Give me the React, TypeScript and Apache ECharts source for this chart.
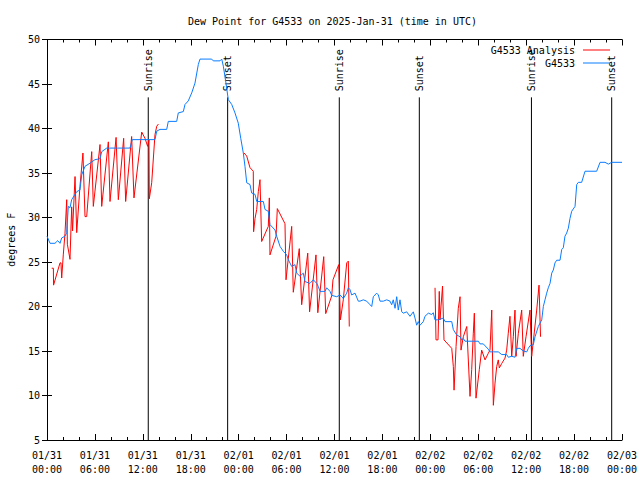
import React, { useEffect, useRef } from "react";
import * as echarts from "echarts";

// Hours since 2025-01-31 00:00 UTC
const xTickHours = [0, 6, 12, 18, 24, 30, 36, 42, 48, 54, 60, 66, 72];
const yTicks = [5, 10, 15, 20, 25, 30, 35, 40, 45, 50];

const sunEventHours = [12.68, 22.62, 36.6, 46.62, 60.66, 70.71];
const sunEventNames = ["Sunrise", "Sunset", "Sunrise", "Sunset", "Sunrise", "Sunset"];

const observed: [number, number][] = [
  [0, 27.9], [0.38, 27.1], [1.0, 27.1], [1.34, 27.4], [1.63, 27.1], [1.84, 27.7], [2.25, 27.9], [2.47, 28.3],
  [2.67, 31.25], [2.88, 31.1], [3.09, 32.0], [3.72, 32.9], [4.13, 33.1], [4.35, 34.8], [4.76, 35.75], [5.38, 36.1],
  [6.01, 36.5], [6.64, 36.6], [6.85, 37.4], [7.48, 37.8], [10.39, 37.8], [10.68, 38.75], [13.52, 38.75], [13.74, 39.7],
  [14.15, 39.9], [14.99, 39.9], [15.19, 40.8], [16.24, 40.8], [16.44, 41.75], [17.07, 41.9], [17.28, 42.7], [17.69, 43.1],
  [18.12, 44.0], [18.53, 45.1], [18.95, 47.2], [19.16, 47.8], [20.62, 47.8], [20.82, 47.6], [21.66, 47.6], [21.88, 47.8],
  [22.08, 47.0], [22.41, 45.1], [22.7, 43.25], [23.13, 42.7], [23.54, 41.75], [23.95, 40.6], [24.26, 38.9], [24.58, 37.25],
  [24.79, 35.75], [25.01, 33.9], [25.42, 33.7], [25.63, 32.75], [26.05, 32.6], [26.26, 31.8], [27.09, 31.8], [27.3, 30.9],
  [27.71, 30.7], [27.92, 29.2], [28.55, 28.6], [28.76, 27.9], [29.18, 26.75], [29.59, 26.2], [30.02, 25.8], [30.22, 25.25],
  [30.64, 24.5], [31.05, 24.7], [31.27, 23.75], [31.68, 23.4], [32.09, 23.75], [32.31, 22.8], [32.93, 22.6], [33.35, 23.0],
  [33.77, 22.6], [33.97, 22.25], [34.19, 21.7], [34.81, 21.7], [35.02, 22.1], [35.44, 21.7], [35.65, 21.25], [36.28, 21.1],
  [36.69, 21.3], [37.1, 20.9], [37.53, 21.5], [37.73, 22.1], [37.94, 21.9], [38.15, 21.3], [38.57, 21.5], [38.98, 20.6],
  [39.19, 20.6], [39.61, 20.75], [40.03, 20.6], [40.45, 20.2], [40.66, 20.0], [40.86, 21.1], [41.28, 21.5], [41.49, 21.3],
  [41.7, 20.6], [42.11, 20.6], [42.54, 20.75], [42.95, 20.6], [43.16, 20.2], [43.36, 20.75], [43.58, 19.8], [43.79, 21.1],
  [43.99, 19.6], [44.2, 20.75], [44.42, 19.4], [44.62, 19.25], [45.04, 19.4], [45.45, 18.9], [45.87, 19.4], [46.08, 18.7],
  [46.29, 17.9], [46.49, 18.3], [46.71, 17.9], [47.12, 18.3], [47.33, 18.9], [47.75, 19.25], [48.17, 19.1], [48.37, 19.3],
  [48.58, 18.5], [49.0, 18.5], [49.62, 18.7], [49.84, 18.3], [50.68, 18.3], [50.88, 17.4], [51.3, 16.8], [51.72, 16.6],
  [51.93, 16.25], [52.13, 16.4], [52.34, 16.1], [54.01, 16.1], [54.22, 15.8], [54.63, 15.8], [55.26, 15.2], [55.47, 14.9],
  [56.51, 14.9], [56.94, 14.6], [57.56, 14.6], [57.76, 14.3], [58.19, 14.4], [58.6, 14.3], [58.82, 15.3], [59.23, 15.3],
  [59.64, 15.0], [60.07, 14.9], [60.27, 15.3], [60.48, 15.6], [60.89, 15.7], [61.11, 16.6], [61.52, 17.75], [61.95, 18.5],
  [62.15, 20.0], [62.36, 20.75], [62.57, 21.5], [62.77, 22.1], [62.99, 22.6], [63.2, 23.75], [63.4, 24.1], [63.61, 24.9],
  [63.82, 25.2], [64.24, 25.2], [64.45, 26.4], [64.65, 26.6], [64.86, 27.9], [65.07, 28.25], [65.28, 28.8], [65.49, 29.9],
  [65.7, 30.7], [66.12, 31.25], [66.33, 33.7], [66.53, 33.95], [66.95, 33.95], [67.37, 35.2], [68.83, 35.2], [69.25, 36.2],
  [69.87, 36.2], [70.29, 36.0], [70.71, 36.2], [72, 36.2],
];

const analysisPart1: [number, number][] = [
  [0.59, 24.3], [0.8, 24.3], [0.82, 22.4], [1.63, 24.9], [1.75, 24.9], [1.84, 23.2], [2.04, 25.8], [2.25, 28.2],
  [2.47, 32.0], [2.55, 27.0], [2.88, 25.3], [3.09, 31.2], [3.2, 28.5], [3.51, 34.6], [3.72, 28.3], [4.13, 33.5],
  [4.5, 37.25], [4.76, 30.1], [4.97, 30.1], [5.6, 37.4], [5.8, 31.25], [6.64, 38.2], [6.85, 31.25], [7.68, 38.5],
  [7.89, 31.8], [8.65, 39.0], [8.93, 32.0], [9.6, 38.9], [9.85, 31.8], [10.6, 39.1], [10.89, 32.2], [11.86, 39.6],
  [12.27, 38.9], [12.6, 38.0], [12.77, 38.7], [12.81, 32.1], [13.11, 33.9], [13.52, 39.3], [13.74, 40.25], [13.95, 40.5],
];
const analysisPart2: [number, number][] = [
  [24.67, 37.25], [25.01, 36.9], [25.42, 35.6], [25.83, 35.2], [25.87, 28.4], [26.05, 29.9], [26.26, 30.9], [26.46, 32.9],
  [26.67, 34.25], [26.88, 27.3], [27.71, 29.0], [27.84, 32.2], [27.92, 25.8], [28.68, 27.9], [28.84, 31.0], [29.8, 29.3],
  [29.93, 23.0], [30.64, 29.0], [30.84, 21.6], [31.59, 26.5], [31.89, 20.2], [32.65, 26.0], [32.88, 19.4], [33.68, 25.8],
  [33.91, 19.3], [34.65, 25.6], [34.9, 19.2], [35.65, 21.2], [35.81, 23.0], [36.53, 24.7], [36.74, 18.5], [37.1, 20.75],
  [37.53, 24.9], [37.73, 25.1], [37.85, 17.75],
];
const analysisPart3: [number, number][] = [
  [48.59, 22.1], [48.71, 16.25], [48.96, 16.25], [49.12, 21.7], [49.21, 18.5], [49.53, 22.3], [49.71, 16.25], [50.68, 15.3],
  [50.88, 13.25], [50.97, 10.6], [51.22, 15.5], [51.5, 19.8], [51.72, 21.1], [51.84, 15.1], [52.13, 16.6], [52.56, 17.75],
  [52.97, 9.9], [53.18, 12.9], [53.38, 17.0], [53.51, 19.25], [53.72, 9.7], [54.13, 12.9], [54.43, 15.1], [54.85, 14.0],
  [55.26, 14.75], [55.47, 15.1], [55.69, 19.6], [55.89, 8.9], [56.1, 11.4], [56.31, 13.25], [56.51, 14.0], [56.64, 13.1],
  [56.94, 13.6], [57.35, 14.2], [57.56, 15.1], [57.76, 17.0], [57.97, 18.9], [58.19, 14.4], [58.39, 16.6], [58.6, 19.6],
  [58.73, 14.4], [59.02, 17.0], [59.44, 19.6], [59.64, 14.4], [59.98, 16.6], [60.48, 19.6], [60.69, 14.4], [61.32, 19.6],
  [61.61, 22.4], [61.8, 16.6],
];

const FONT = "'DejaVu Sans Mono', 'Liberation Mono', monospace";

function hourLabel(h: number): string {
  const day = Math.floor(h / 24);
  const hr = Math.round(h - day * 24);
  const dates = ["01/31", "02/01", "02/02", "02/03"];
  return dates[day] + "\n" + String(hr).padStart(2, "0") + ":00";
}

export default function App() {
  const ref = useRef<HTMLDivElement>(null);
  useEffect(() => {
    document.body.style.margin = "0";
    if (!ref.current) return;
    const chart = echarts.init(ref.current, null, { renderer: "svg" });
    const analysis: any[] = [
      ...analysisPart1,
      [18, null],
      ...analysisPart2,
      [43, null],
      ...analysisPart3,
    ];
    const axisLine = { show: true, lineStyle: { color: "#000", width: 1 } };
    const baseX = {
      type: "value",
      min: xTickHours[0],
      max: xTickHours[xTickHours.length - 1],
      interval: 6,
      axisLine,
      splitLine: { show: false },
      axisTick: { show: true, inside: true, length: 6, lineStyle: { color: "#000" } },
      minorTick: { show: true, splitNumber: 3, length: 3, lineStyle: { color: "#000" } },
    };
    const baseY = {
      type: "value",
      min: yTicks[0],
      max: yTicks[yTicks.length - 1],
      interval: 5,
      axisLine,
      splitLine: { show: false },
      axisTick: { show: true, inside: true, length: 5, lineStyle: { color: "#000" } },
    };
    const legendText = { fontFamily: FONT, fontSize: 10, color: "#000", padding: [0, 3, 0, 0] };
    chart.setOption({
      animation: false,
      backgroundColor: "#fff",
      textStyle: { fontFamily: FONT },
      title: {
        text: "Dew Point for G4533 on 2025-Jan-31 (time in UTC)",
        left: 183,
        top: 11,
        textStyle: { fontFamily: FONT, fontSize: 10, fontWeight: "normal", color: "#000" },
      },
      grid: {
        left: 47,
        right: 18,
        top: 39.5,
        bottom: 40,
        containLabel: false,
        outerBoundsMode: "none",
      },
      legend: [
        {
          data: ["G4533 Analysis"],
          right: 25,
          top: 40,
          align: "right",
          icon: "rect",
          itemWidth: 27,
          itemHeight: 1,
          textStyle: legendText,
        },
        {
          data: ["G4533"],
          right: 25,
          top: 53,
          align: "right",
          icon: "rect",
          itemWidth: 27,
          itemHeight: 1,
          textStyle: legendText,
        },
      ],
      xAxis: [
        {
          ...baseX,
          position: "bottom",
          axisLabel: {
            fontFamily: FONT,
            fontSize: 10,
            color: "#000",
            lineHeight: 14,
            margin: 8,
            formatter: (v: number) => hourLabel(v),
          },
        },
        { ...baseX, position: "top", axisLabel: { show: false } },
      ],
      yAxis: [
        {
          ...baseY,
          position: "left",
          name: "degrees F",
          nameLocation: "middle",
          nameRotate: 90,
          nameGap: 31,
          nameTextStyle: { fontFamily: FONT, fontSize: 10, color: "#000" },
          axisLabel: { fontFamily: FONT, fontSize: 10, color: "#000", margin: 7 },
        },
        { ...baseY, position: "right", axisLabel: { show: false } },
      ],
      series: [
        {
          name: "G4533 Analysis",
          type: "line",
          data: analysis,
          showSymbol: false,
          connectNulls: false,
          color: "#ff0000",
          lineStyle: { color: "#ff0000", width: 1 },
        },
        {
          name: "G4533",
          type: "line",
          data: observed,
          showSymbol: false,
          color: "#0a7cff",
          lineStyle: { color: "#0a7cff", width: 1 },
        },
        {
          name: "sun",
          type: "custom",
          clip: false,
          data: sunEventHours.map((h) => [h, yTicks[0]]),
          renderItem: (params: any, api: any) => {
            const bottom = api.coord([api.value(0), yTicks[0]]);
            const top = api.coord([api.value(0), 43.5]);
            return {
              type: "group",
              children: [
                {
                  type: "line",
                  shape: { x1: bottom[0], y1: bottom[1], x2: top[0], y2: top[1] },
                  style: { stroke: "#000", lineWidth: 1 },
                },
                {
                  type: "text",
                  x: top[0],
                  y: top[1] - 6,
                  rotation: Math.PI / 2,
                  style: {
                    text: sunEventNames[params.dataIndex],
                    fill: "#000",
                    font: "10px " + FONT,
                    align: "left",
                    verticalAlign: "middle",
                  },
                },
              ],
            };
          },
        },
      ],
    });
    return () => chart.dispose();
  }, []);
  return <div ref={ref} style={{ width: 640, height: 480 }} />;
}
